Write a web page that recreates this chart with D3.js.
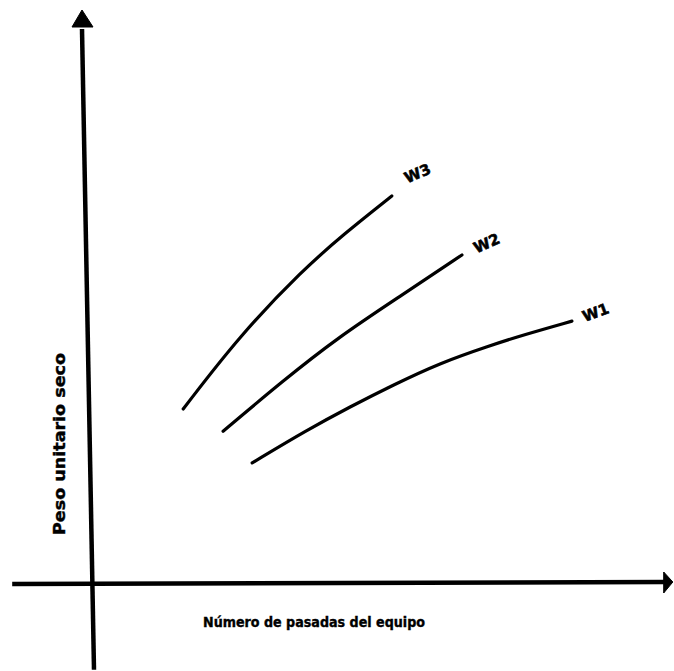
<!DOCTYPE html>
<html>
<head>
<meta charset="utf-8">
<script src="https://cdn.jsdelivr.net/npm/d3@7"></script>
<style>
  html, body { margin: 0; padding: 0; background: #fff; }
  svg { display: block; }
  text { font-family: "DejaVu Sans", "Liberation Sans", sans-serif; font-weight: bold; fill: #000; }
</style>
</head>
<body>
<script>
// Compaction curves: dry unit weight vs. number of equipment passes,
// one curve per water content (W1 < W2 < W3). Values in relative units 0–100.
const seriesNames = ["W1", "W2", "W3"];
const passesW1 = [28.1, 37.7, 45.3, 52.8, 61.1, 69.8, 75.6, 84.2];
const weightW1 = [21.6, 27.5, 31.7, 35.6, 39.6, 42.7, 44.6, 47.1];
const passesW2 = [23.0, 33.3, 43.2, 54.4, 64.9];
const weightW2 = [27.3, 36.2, 44.2, 51.8, 59.0];
const passesW3 = [16.0, 26.0, 37.0, 44.0, 52.6];
const weightW3 = [31.3, 44.6, 56.3, 62.6, 69.6];
const xTitle = "Número de pasadas del equipo";
const yTitle = "Peso unitario seco";

const W = 674, H = 671;
const svg = d3.select("body").append("svg").attr("width", W).attr("height", H);

const x = d3.scaleLinear().domain([0, 100]).range([92, 662]);
const y = d3.scaleLinear().domain([0, 100]).range([583, 27]);

// Axes drawn as hand-style arrows crossing at the origin
const axes = svg.append("g").attr("fill", "#000").attr("stroke", "#000");
axes.append("line")
  .attr("x1", x(-14)).attr("y1", y(0) + 1)
  .attr("x2", x(100.5)).attr("y2", y(0) - 1)
  .attr("stroke-width", 4.5);
axes.append("path")
  .attr("d", `M${x(100.3)},${y(0) - 11} L${x(101.9)},${y(0) - 1} L${x(100.3)},${y(0) + 10} Z`)
  .attr("stroke-width", 1);
axes.append("line")
  .attr("x1", x(0) + 2).attr("y1", y(-15.6))
  .attr("x2", x(0) - 10).attr("y2", y(100) + 2)
  .attr("stroke-width", 4.5);
axes.append("path")
  .attr("d", `M${x(0) - 20},${y(100)} L${x(0) - 10},${y(100) - 17} L${x(0) + 1},${y(100)} Z`)
  .attr("stroke-width", 1);

// Curves
const series = [
  { name: seriesNames[0], xs: passesW1, ys: weightW1, rot: -20, dx: 24, dy: -8 },
  { name: seriesNames[1], xs: passesW2, ys: weightW2, rot: -24, dx: 25, dy: -11 },
  { name: seriesNames[2], xs: passesW3, ys: weightW3, rot: -24, dx: 26, dy: -22 }
];

const line = d3.line()
  .x(d => x(d[0]))
  .y(d => y(d[1]))
  .curve(d3.curveBasis);

series.forEach(s => {
  const pts = s.xs.map((v, i) => [v, s.ys[i]]);
  svg.append("path")
    .attr("d", line(pts))
    .attr("fill", "none")
    .attr("stroke", "#000")
    .attr("stroke-width", 3.2)
    .attr("stroke-linecap", "round");
  const last = pts[pts.length - 1];
  const lx = x(last[0]) + s.dx, ly = y(last[1]) + s.dy;
  svg.append("text")
    .attr("transform", `translate(${lx},${ly}) rotate(${s.rot})`)
    .attr("text-anchor", "middle")
    .attr("dominant-baseline", "middle")
    .attr("font-size", 15)
    .attr("stroke", "#000")
    .attr("stroke-width", 0.6)
    .text(s.name);
});

// Axis titles
svg.append("text")
  .attr("x", 203).attr("y", 627)
  .attr("font-size", 14)
  .attr("stroke", "#000")
  .attr("stroke-width", 0.4)
  .attr("textLength", 222)
  .attr("lengthAdjust", "spacingAndGlyphs")
  .text(xTitle);

svg.append("text")
  .attr("transform", "translate(65,444) rotate(-90)")
  .attr("text-anchor", "middle")
  .attr("font-size", 15)
  .attr("stroke", "#000")
  .attr("stroke-width", 0.4)
  .attr("textLength", 182)
  .attr("lengthAdjust", "spacingAndGlyphs")
  .text(yTitle);
</script>
</body>
</html>
